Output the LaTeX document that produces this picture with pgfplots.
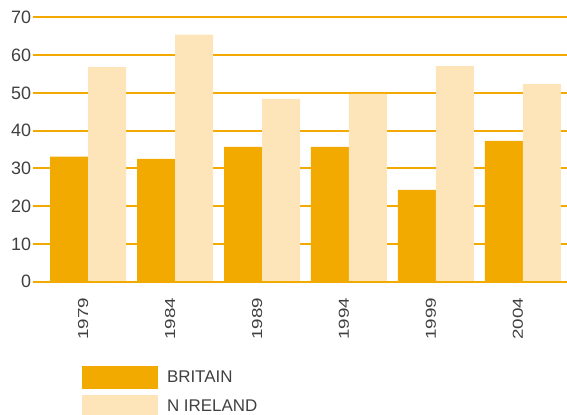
\documentclass[border=0pt]{standalone}
\usepackage{fontspec}
\setmainfont{Liberation Sans}
\usepackage{graphicx}
\usepackage{pgfplots}
\pgfplotsset{compat=1.18}
\usetikzlibrary{calc}
\definecolor{britain}{RGB}{242,170,0}
\definecolor{nireland}{RGB}{253,229,185}
\definecolor{txt}{RGB}{64,64,64}
\begin{document}
\begin{tikzpicture}
\begin{axis}[
  scale only axis,
  width=533.7bp, height=264.4bp,
  xmin=-0.629, xmax=5.506,
  ymin=0, ymax=70,
  ytick={0,10,...,70},
  xtick={0,1,2,3,4,5},
  xticklabels={\scalebox{1.3}[1]{1979},\scalebox{1.3}[1]{1984},\scalebox{1.3}[1]{1989},\scalebox{1.3}[1]{1994},\scalebox{1.3}[1]{1999},\scalebox{1.3}[1]{2004}},
  axis line style={draw=none},
  major tick length=0pt,
  ymajorgrids,
  grid style={britain, line width=1.8bp},
  /pgf/number format/assume math mode=true,
  yticklabel style={font=\fontsize{18}{18}\selectfont, text=txt, inner sep=0pt, anchor=east},
  yticklabel shift=2bp,
  xticklabel style={font=\fontsize{14.5}{14.5}\selectfont, text=txt, inner sep=0pt, rotate=90, anchor=base east},
  xticklabel shift=16bp,
  ybar=0pt, bar width=38bp,
  legend style={at={(0,0)}, anchor=north west, xshift=48.7bp, yshift=-84.3bp,
    draw=none, fill=none, inner sep=0pt, outer sep=0pt,
    row sep=6.3bp, column sep=0pt,
    font=\fontsize{17}{17}\selectfont, text=txt,
    nodes={inner sep=0pt},
    /tikz/every odd column/.append style={column sep=9bp}},
  legend cell align=left,
]
\addplot[fill=britain, draw=none,
  legend image code/.code={\fill[britain] (0bp,-11.35bp) rectangle (76bp,11.35bp);}]
  coordinates {(0,33.1) (1,32.5) (2,35.7) (3,35.7) (4,24.3) (5,37.25)};
\addlegendentry{BRITAIN}
\addplot[fill=nireland, draw=none,
  legend image code/.code={\fill[nireland] (0bp,-11.35bp) rectangle (76bp,11.35bp);}]
  coordinates {(0,56.8) (1,65.4) (2,48.4) (3,49.7) (4,57.1) (5,52.3)};
\addlegendentry{N IRELAND}
\draw[britain, line width=1.8bp] (rel axis cs:0,0) -- (rel axis cs:1,0);
\end{axis}
\pgfresetboundingbox
\path ($(current axis.south west)+(-33.3bp,-133.3bp)$) rectangle ($(current axis.north east)+(0bp,17.3bp)$);
\end{tikzpicture}
\end{document}
